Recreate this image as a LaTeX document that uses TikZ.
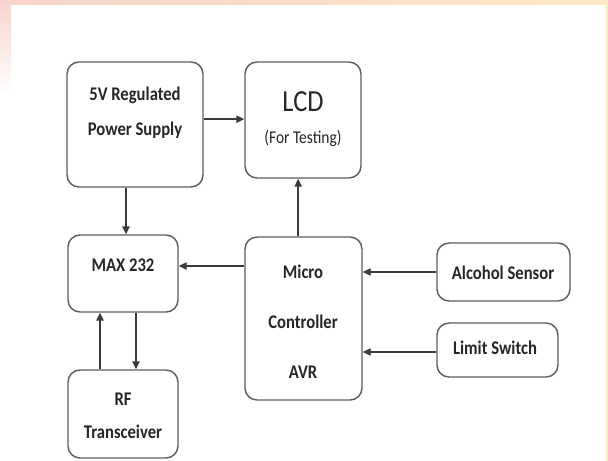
\documentclass[tikz,border=0pt]{standalone}
\usepackage{fontspec}
\setmainfont{Carlito}
\newfontfamily\blockfont[FakeStretch=0.86]{Carlito}
\usetikzlibrary{arrows.meta}

\definecolor{boxline}{HTML}{5E5E5E}
\definecolor{arrline}{HTML}{3A3A3A}
\definecolor{txtcol}{HTML}{262626}
\definecolor{bandpink}{HTML}{F8D3CC}
\definecolor{bandpeach}{HTML}{FDE8C6}

\tikzset{
  blockbox/.style={draw=boxline, line width=1.1pt, rounded corners=9pt, inner sep=0pt},
  lbl/.style={text=txtcol, inner sep=0.75pt, font=\blockfont\fontsize{14.5}{16}\selectfont\bfseries},
  lblthin/.style={text=txtcol, inner sep=0.75pt, font=\blockfont\fontsize{13.5}{15}\selectfont},
  arr/.style={draw=arrline, line width=1.1pt, -{Triangle[length=6pt,width=5.5pt]}}
}

\begin{document}
\begin{tikzpicture}[x=0.75pt,y=0.75pt,yscale=-1,xscale=1]
\useasboundingbox (0,0) rectangle (608,461);

%Background band
\fill[left color=bandpink, right color=bandpeach] (0,0) rectangle (608,4);
\fill[top color=bandpink, bottom color=white] (0,0) rectangle (11,95);
\fill[bandpeach] (606,0) rectangle (608,461);

%Blocks
\node[blockbox, minimum width=102pt, minimum height=93.75pt] (psu) at (135,124.5) {};
\node[blockbox, minimum width=87pt, minimum height=87pt] (lcd) at (303,120) {};
\node[blockbox, minimum width=82.5pt, minimum height=57.75pt] (max) at (123,273.5) {};
\node[blockbox, minimum width=87.75pt, minimum height=122.25pt] (mcu) at (303.5,318.5) {};
\node[blockbox, minimum width=82.5pt, minimum height=66pt] (rf) at (123,414) {};
\node[blockbox, minimum width=99.75pt, minimum height=43.5pt] (alc) at (503.5,272) {};
\node[blockbox, minimum width=90.75pt, minimum height=40.5pt] (lim) at (497.5,350) {};

%Text
\node[lbl] (psuA) at (135,95) {5V Regulated};
\node[lbl] (psuB) at (135,130) {Power Supply};
\node[lblthin, font=\blockfont\fontsize{23}{25}\selectfont] (lcdA) at (303,102) {LCD};
\node[lblthin] (lcdB) at (303,138) {(For Testing)};
\node[lbl] (maxA) at (123,265) {MAX 232};
\node[lbl] (mcuA) at (303,272) {Micro};
\node[lbl] (mcuB) at (303,322) {Controller};
\node[lbl] (mcuC) at (303,372) {AVR};
\node[lbl] (rfA) at (123,399) {RF};
\node[lbl] (rfB) at (123,432) {Transceiver};
\node[lbl] (alcA) at (503,273) {Alcohol Sensor};
\node[lbl] (limA) at (495,348) {Limit Switch};

%Connector ends
\coordinate (psuOut) at ([yshift=-4pt]psu.east);
\coordinate (psuDown) at ([xshift=-6.75pt]psu.south);
\coordinate (mcuUp) at ([xshift=-4pt]mcu.north);
\coordinate (maxIn) at ([yshift=-5.6pt]max.east);
\coordinate (rfUp) at ([xshift=-17.25pt]rf.north);
\coordinate (maxDown) at ([xshift=9.75pt]max.south);
\coordinate (limOut) at ([yshift=1.5pt]lim.west);

%Connectors
\draw[arr] (psuOut) -- (lcd.west |- psuOut);
\draw[arr] (psuDown) -- (psuDown |- max.north);
\draw[arr] (mcuUp) -- (mcuUp |- lcd.south);
\draw[arr] (mcu.west |- maxIn) -- (maxIn);
\draw[arr] (rfUp) -- (rfUp |- max.south);
\draw[arr] (maxDown) -- (maxDown |- rf.north);
\draw[arr] (alc.west) -- (mcu.east |- alc.west);
\draw[arr] (limOut) -- (mcu.east |- limOut);

\end{tikzpicture}
\end{document}
